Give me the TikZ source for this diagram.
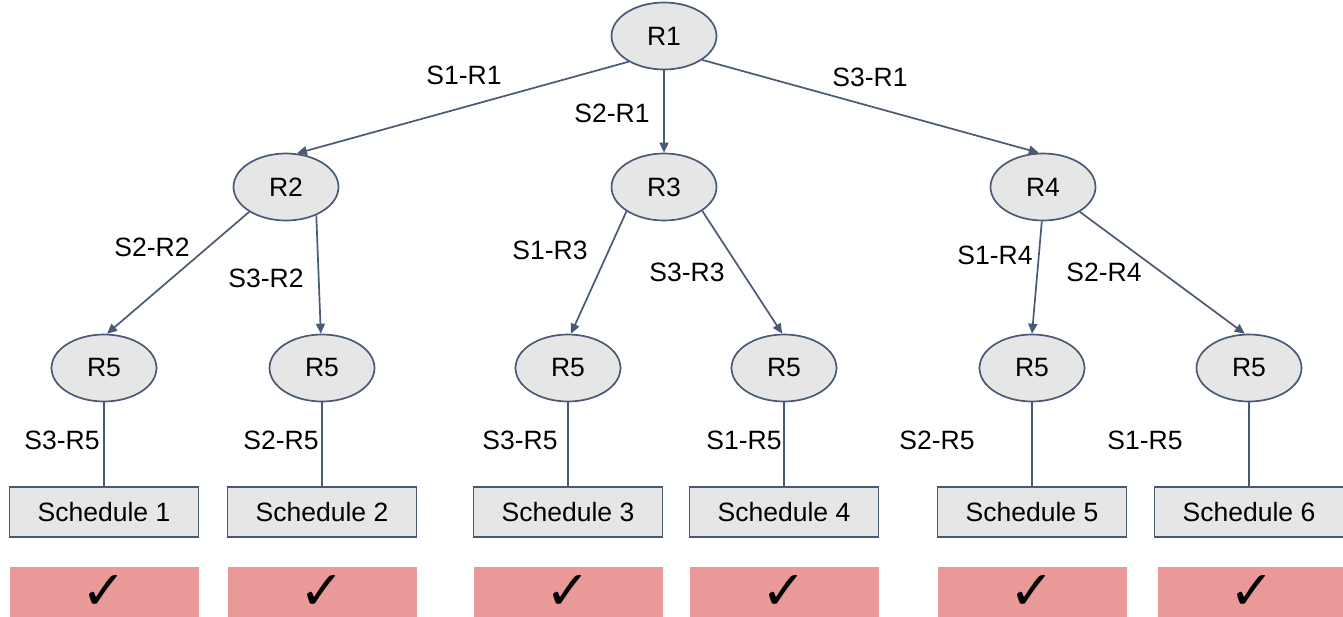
\documentclass[tikz,border=0pt]{standalone}
\usepackage{fontspec}
\setmainfont{Liberation Sans}
\newfontfamily\symfont{DejaVu Sans}[BoldFont={DejaVu Sans Bold}]
\usetikzlibrary{shapes.geometric,arrows.meta}
\definecolor{edgec}{HTML}{4A5A76}
\definecolor{nodefill}{HTML}{E6E6E6}
\definecolor{okfill}{HTML}{EA9999}
\begin{document}
\begin{tikzpicture}[x=1pt,y=-1pt,
  state/.style={ellipse, draw=edgec, line width=1.7pt, fill=nodefill,
    minimum width=105pt, minimum height=67pt, inner sep=0pt,
    font=\fontsize{26.5}{30}\selectfont},
  sched/.style={rectangle, draw=edgec, line width=1.7pt, fill=nodefill,
    minimum width=189pt, minimum height=50pt, inner sep=0pt,
    font=\fontsize{26.5}{30}\selectfont},
  okbox/.style={rectangle, fill=okfill, minimum width=189pt,
    minimum height=50pt, inner sep=0pt,
    font=\symfont\bfseries\fontsize{54}{54}\selectfont},
  lbl/.style={inner sep=0pt, font=\fontsize{26.5}{30}\selectfont},
  arc/.style={draw=edgec, line width=1.7pt,
    -{Triangle[length=10pt,width=9pt]}},
  link/.style={draw=edgec, line width=1.7pt}]
\useasboundingbox (0,0) rectangle (1343,616);
\begin{scope}
\clip (0,0) rectangle (1343,616);

% decision nodes
\node[state] (r1) at (664,36) {R1};
\node[state] (r2) at (286,187) {R2};
\node[state] (r3) at (664,187) {R3};
\node[state] (r4) at (1043,187) {R4};
\node[state] (r5a) at (104,368) {R5};
\node[state] (r5b) at (322,368) {R5};
\node[state] (r5c) at (568,368) {R5};
\node[state] (r5d) at (784,368) {R5};
\node[state] (r5e) at (1032,368) {R5};
\node[state] (r5f) at (1249,368) {R5};

% resulting schedules
\node[sched] (s1) at (104,512) {Schedule 1};
\node[sched] (s2) at (322,512) {Schedule 2};
\node[sched] (s3) at (568,512) {Schedule 3};
\node[sched] (s4) at (784,512) {Schedule 4};
\node[sched] (s5) at (1032,512) {Schedule 5};
\node[sched] (s6) at (1249,512) {Schedule 6};

% feasibility marks
\node[okbox] (k1) at (104,592) {✓};
\node[okbox] (k2) at (322,592) {✓};
\node[okbox] (k3) at (568,592) {✓};
\node[okbox] (k4) at (784,592) {✓};
\node[okbox] (k5) at (1032,592) {✓};
\node[okbox] (k6) at (1252,592) {✓};

% tree edges
\draw[arc] (r1.216) -- (r2.72);
\draw[arc] (r1.south) -- (r3.north);
\draw[arc] (r1.328) -- (r4.97);
\draw[arc] (r2.214) -- (r5a.85);
\draw[arc] (r2.317) -- (r5b.92);
\draw[arc] (r3.213) -- (r5c.85);
\draw[arc] (r3.328) -- (r5d.93);
\draw[arc] (r4.268) -- (r5e.90);
\draw[arc] (r4.326) -- (r5f.97);

\draw[link] (r5a.south) -- (s1.north);
\draw[link] (r5b.south) -- (s2.north);
\draw[link] (r5c.south) -- (s3.north);
\draw[link] (r5d.south) -- (s4.north);
\draw[link] (r5e.south) -- (s5.north);
\draw[link] (r5f.south) -- (s6.north);

% edge labels
\node[lbl] (l1) at (464,75) {S1-R1};
\node[lbl] (l2) at (612,113) {S2-R1};
\node[lbl] (l3) at (870,77) {S3-R1};
\node[lbl] (l4) at (152,247) {S2-R2};
\node[lbl] (l5) at (266,278) {S3-R2};
\node[lbl] (l6) at (550,250) {S1-R3};
\node[lbl] (l7) at (687,272) {S3-R3};
\node[lbl] (l8) at (995,255) {S1-R4};
\node[lbl] (l9) at (1104,272) {S2-R4};
\node[lbl] (l10) at (62,440) {S3-R5};
\node[lbl] (l11) at (281,440) {S2-R5};
\node[lbl] (l12) at (520,440) {S3-R5};
\node[lbl] (l13) at (744,440) {S1-R5};
\node[lbl] (l14) at (937,440) {S2-R5};
\node[lbl] (l15) at (1145,440) {S1-R5};
\end{scope}
\end{tikzpicture}
\end{document}
